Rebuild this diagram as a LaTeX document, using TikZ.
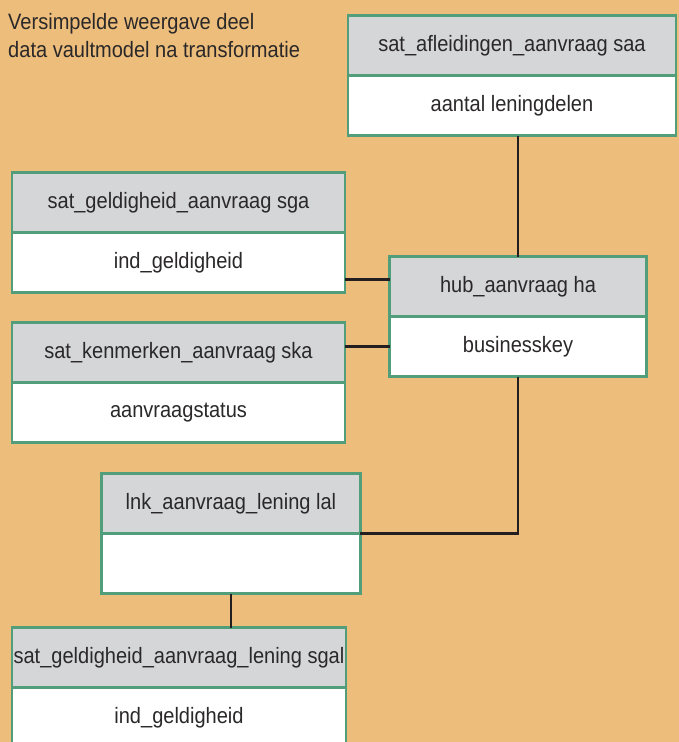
\documentclass[tikz,border=0pt]{standalone}
\usepackage{fontspec}
\setmainfont{Liberation Sans}[FakeStretch=0.9]
\usetikzlibrary{positioning}

\definecolor{achtergrond}{HTML}{EDBD7B}
\definecolor{kopgrijs}{HTML}{D5D6D8}
\definecolor{randgroen}{HTML}{529E7B}
\definecolor{lijnzwart}{HTML}{231F20}
\definecolor{tekst}{HTML}{2A2829}

\tikzset{
  tabel/.style={draw=randgroen, line width=2.4pt, text=tekst, inner sep=0pt,
    outer sep=0pt, minimum width=#1*0.03cm, minimum height=1.8cm,
    font=\fontsize{19}{23}\selectfont},
  kop/.style={tabel=#1, fill=kopgrijs},
  veld/.style={tabel=#1, fill=white},
  verbinding/.style={draw=lijnzwart, line width=2.5pt},
}

\begin{document}
\begin{tikzpicture}[x=0.03cm, y=-0.03cm]
    \fill[achtergrond] (0, 0) rectangle (679, 742);
    \useasboundingbox (0, 0) rectangle (679, 742);

    \node[anchor=north west, align=left, inner sep=0pt, text=tekst,
      font=\fontsize{19}{23.6}\selectfont] (titel) at (8, 13)
      {Versimpelde weergave deel\\data vaultmodel na transformatie};

    % hub en satellieten
    \node[kop=328] (saak) at (512, 45.5) {sat\_afleidingen\_aanvraag saa};
    \node[veld=328, below=0pt of saak] (saab) {aantal leningdelen};

    \node[kop=333] (sgak) at (178.5, 202.5) {sat\_geldigheid\_aanvraag sga};
    \node[veld=333, below=0pt of sgak] (sgab) {ind\_geldigheid};

    \node[kop=257] (hubk) at (518, 286.5) {hub\_aanvraag ha};
    \node[veld=257, below=0pt of hubk] (hubb) {businesskey};

    \node[kop=333] (skak) at (178.5, 352.5) {sat\_kenmerken\_aanvraag ska};
    \node[veld=333, below=0pt of skak] (skab) {aanvraagstatus};

    % link en satelliet
    \node[kop=258.5] (lalk) at (231, 503.5) {lnk\_aanvraag\_lening lal};
    \node[veld=258.5, below=0pt of lalk] (lalb) {};

    \node[kop=334] (sgalk) at (179, 657.5) {sat\_geldigheid\_aanvraag\_lening sgal};
    \node[veld=334, below=0pt of sgalk] (sgalb) {ind\_geldigheid};

    % verbindingen
    \draw[verbinding] (hubk.north) -- (hubk.north |- saab.south);
    \draw[verbinding] ([yshift=0.22cm]hubk.west) -- ([yshift=0.22cm]hubk.west -| sgab.east);
    \draw[verbinding] (hubb.west) -- (hubb.west -| skak.east);
    \draw[verbinding] (hubb.south) |- (lalk.south east);
    \draw[verbinding] (lalb.south) -- (lalb.south |- sgalk.north);
\end{tikzpicture}
\end{document}
